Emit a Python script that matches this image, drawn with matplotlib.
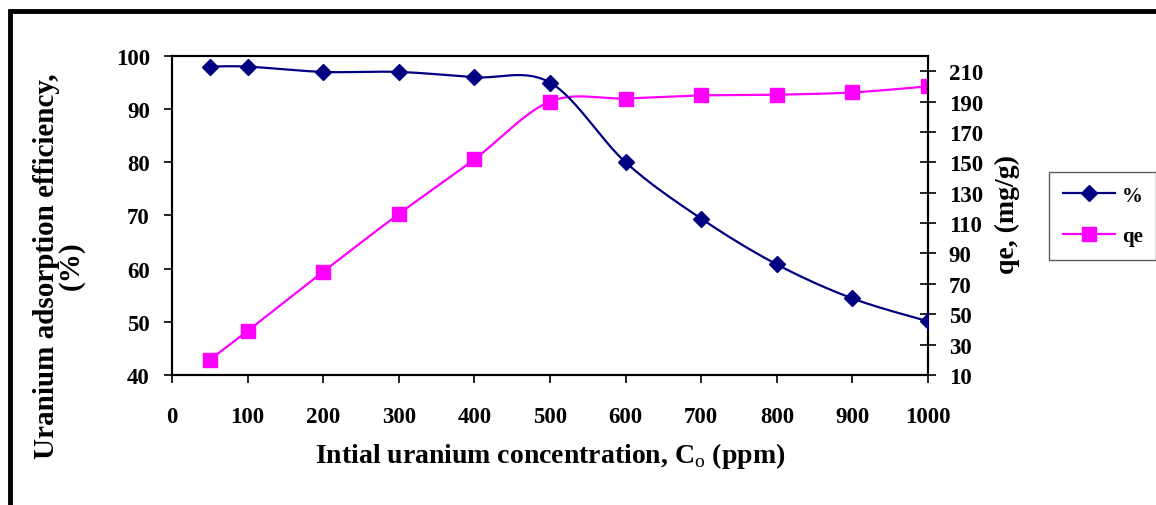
import numpy as np
import matplotlib.pyplot as plt
from matplotlib.lines import Line2D

FONT = "Liberation Serif"
plt.rcParams["mathtext.fontset"] = "custom"
plt.rcParams["mathtext.rm"] = FONT
plt.rcParams["mathtext.bf"] = FONT + ":bold"

# Adsorption data vs initial uranium concentration
conc = np.array([50, 100, 200, 300, 400, 500, 600, 700, 800, 900, 1000])
efficiency = np.array([98.0, 98.0, 97.0, 97.0, 96.0, 95.0, 80.0, 69.4, 60.8, 54.4, 50.1])
qe = np.array([20, 39, 78, 116, 152, 190, 192, 194, 194.5, 196, 200])

x_ticks = np.arange(0, 1001, 100)
left_ticks = np.arange(40, 101, 10)
right_ticks = np.arange(10, 211, 20)

NAVY = "#000080"
MAGENTA = "#FF00FF"


def smooth(x, y, n=30):
    # Bezier smoothing through the points (Catmull-Rom style control points)
    px = np.concatenate([[x[0]], x, [x[-1]]])
    py = np.concatenate([[y[0]], y, [y[-1]]])
    xs, ys = [], []
    t = np.linspace(0, 1, n)
    for i in range(1, len(px) - 2):
        p0 = np.array([px[i], py[i]])
        p3 = np.array([px[i + 1], py[i + 1]])
        p1 = p0 + (np.array([px[i + 1], py[i + 1]]) - np.array([px[i - 1], py[i - 1]])) / 6
        p2 = p3 - (np.array([px[i + 2], py[i + 2]]) - np.array([px[i], py[i]])) / 6
        b = ((1 - t) ** 3)[:, None] * p0 + (3 * (1 - t) ** 2 * t)[:, None] * p1 \
            + (3 * (1 - t) * t ** 2)[:, None] * p2 + (t ** 3)[:, None] * p3
        xs.extend(b[:, 0])
        ys.extend(b[:, 1])
    return np.array(xs), np.array(ys)


fig = plt.figure(figsize=(11.56, 5.06), dpi=100)
ax = fig.add_axes([0.1488, 0.2569, 0.654, 0.6305])
ax2 = ax.twinx()

sx, sy = smooth(conc, efficiency)
ax.plot(sx, sy, color=NAVY, lw=1.6, zorder=2)
ax.plot(conc, efficiency, ls="none", marker="D", ms=8, color=NAVY, zorder=3)

qx, qy = smooth(conc, qe)
ax2.plot(qx, qy, color=MAGENTA, lw=1.6, zorder=2)
ax2.plot(conc, qe, ls="none", marker="s", ms=10, color=MAGENTA, zorder=3)

ax.set_zorder(ax2.get_zorder() + 1)
ax.patch.set_visible(False)

ax.set_xlim(0, 1000)
ax.set_ylim(40, 100)
ax2.set_ylim(10, 220)
ax.set_xticks(x_ticks)
ax.set_yticks(left_ticks)
ax2.set_yticks(right_ticks)

for a in (ax, ax2):
    for s in a.spines.values():
        s.set_linewidth(1.5)
        s.set_color("black")

ax.tick_params(axis="x", direction="out", length=6, width=1.2, pad=16)
ax.tick_params(axis="y", direction="out", length=6, width=1.2, pad=10)
ax2.tick_params(axis="y", direction="inout", length=12, width=1.2, pad=9)

for lab in ax.get_xticklabels() + ax.get_yticklabels() + ax2.get_yticklabels():
    lab.set_fontfamily(FONT)
    lab.set_fontweight("bold")
    lab.set_fontsize(16.5)

ax.set_xlabel("Intial uranium concentration, C$_\\mathrm{o}$ (ppm)",
              fontfamily=FONT, fontweight="bold", fontsize=20, labelpad=10)
ax.set_ylabel("Uranium adsorption efficiency,\n(%)", fontfamily=FONT,
              fontweight="bold", fontsize=21, linespacing=0.85)
ax.yaxis.set_label_coords(-0.116, 0.345)
ax2.set_ylabel("qe, (mg/g)", fontfamily=FONT, fontweight="bold", fontsize=20)
ax2.yaxis.set_label_coords(1.089, 0.505)

handles = [
    Line2D([], [], color=NAVY, lw=1.6, marker="D", ms=8, label="%"),
    Line2D([], [], color=MAGENTA, lw=1.6, marker="s", ms=10, label="qe"),
]
leg = fig.legend(handles=handles, loc="upper left", bbox_to_anchor=(1049 / 1156, 1 - 173 / 506),
                 borderaxespad=0, frameon=True, fancybox=False, edgecolor="#333333",
                 handlelength=2.5, labelspacing=1.0, borderpad=0.65, handletextpad=0.35,
                 prop={"family": FONT, "weight": "bold", "size": 15})
leg.get_frame().set_linewidth(1.0)

# outer border lines (top and left)
fig.add_artist(Line2D([8 / 1156, 1.0], [1 - 11.5 / 506] * 2, color="black", lw=3.5,
                      transform=fig.transFigure, solid_capstyle="butt"))
fig.add_artist(Line2D([10 / 1156] * 2, [0, 1 - 10 / 506], color="black", lw=3.5,
                      transform=fig.transFigure, solid_capstyle="butt"))

fig.savefig("out.png", dpi=100)
